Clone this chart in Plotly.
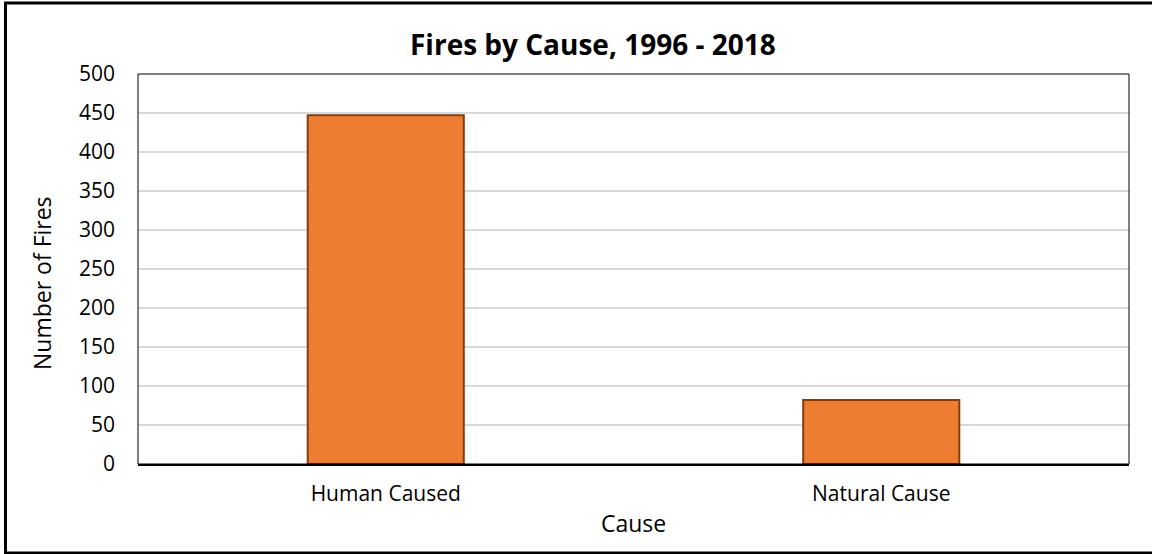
import plotly.graph_objects as go

categories = ["Human Caused", "Natural Cause"]
fires = [447, 82]
y_ticks = list(range(0, 501, 50))

W, H = 1152, 554
L, R, T, B = 138, 23, 74, 90
pw, ph = W - L - R, H - T - B

def px(x):
    return (x - L) / pw

def py(y):
    return (H - B - y) / ph

fig = go.Figure()
fig.add_trace(go.Bar(
    x=categories, y=fires,
    marker=dict(color="#ED7D31", line=dict(color="#843C0C", width=2)),
))

fig.update_layout(
    width=W, height=H,
    margin=dict(l=L, r=R, t=T, b=B),
    paper_bgcolor="white", plot_bgcolor="white",
    bargap=0.685,
    showlegend=False,
    font=dict(family="Open Sans", color="black"),
    xaxis=dict(
        showline=True, linecolor="black", linewidth=2,
        tickfont=dict(size=21, color="black"),
        ticks="", ticklabelstandoff=10,
        showgrid=False,
    ),
    yaxis=dict(
        range=[0, 500], tickvals=y_ticks,
        showgrid=True, gridcolor="#D9D9D9", gridwidth=1.5,
        tickfont=dict(size=21, color="black"),
        ticks="", ticklabelstandoff=22,
        showline=False, zeroline=False,
    ),
    shapes=[
        dict(type="rect", xref="paper", yref="paper", x0=0, x1=1, y0=0, y1=1,
             line=dict(color="black", width=1), layer="above"),
        dict(type="rect", xref="paper", yref="paper",
             x0=px(5.5), x1=px(1182), y0=py(553), y1=py(3),
             line=dict(color="black", width=3)),
    ],
    annotations=[
        dict(text="<b>Fires by Cause, 1996 - 2018</b>", xref="paper", yref="paper",
             x=px(593), y=py(44), xanchor="center", yanchor="middle",
             showarrow=False, font=dict(size=28, color="black")),
        dict(text="Cause", xref="paper", yref="paper",
             x=px(633), y=py(523), xanchor="center", yanchor="middle",
             showarrow=False, font=dict(size=23, color="black")),
        dict(text="Number of Fires", xref="paper", yref="paper", textangle=-90,
             x=px(42), y=py(283), xanchor="center", yanchor="middle",
             showarrow=False, font=dict(size=23, color="black")),
    ],
)

fig.write_html("out.html")
